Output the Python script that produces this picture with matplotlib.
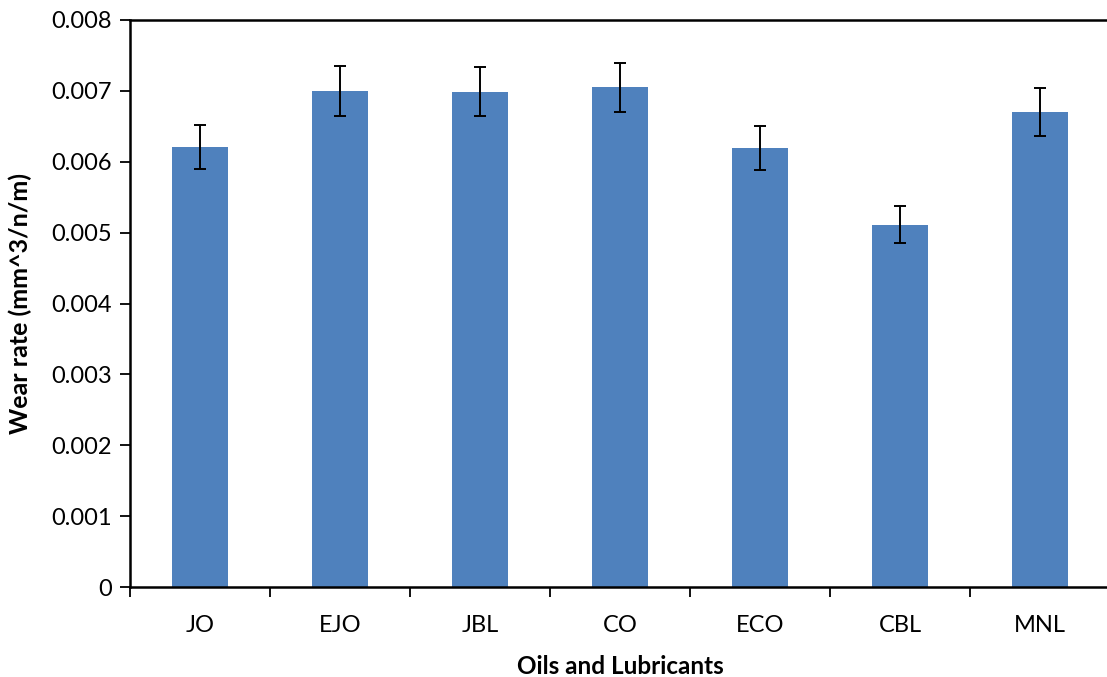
import matplotlib.pyplot as plt
import numpy as np

# wear rate per lubricant, with error bars
oils = ["JO", "EJO", "JBL", "CO", "ECO", "CBL", "MNL"]
wear_rate = [0.00621, 0.00700, 0.00699, 0.00705, 0.00620, 0.00511, 0.00670]
wear_err = [0.00031, 0.00035, 0.00035, 0.00035, 0.00031, 0.00026, 0.00034]

plt.rcParams['font.family'] = ['Lato', 'DejaVu Sans']

fig = plt.figure(figsize=(11.07, 6.77), dpi=100)
ax = fig.add_axes([130 / 1107, 90 / 677, 980 / 1107, 567 / 677])

x = np.arange(len(oils))
ax.bar(x, wear_rate, width=0.4, color="#4F81BD", zorder=2)
ax.errorbar(x, wear_rate, yerr=wear_err, fmt="none", ecolor="black",
            elinewidth=1.4, capsize=4.5, capthick=1.4, zorder=3)

ax.set_xlim(-0.5, len(oils) - 0.5)
ax.set_ylim(0, 0.008)
ax.set_yticks(np.arange(0, 0.0081, 0.001))
ax.set_yticklabels(["0"] + ["%.3f" % v for v in np.arange(0.001, 0.0081, 0.001)])

ax.set_xticks(x)
ax.set_xticklabels(oils)
ax.set_xticks(np.arange(-0.5, len(oils)), minor=True)
ax.tick_params(axis="x", which="major", length=0, pad=20, labelsize=17)
ax.tick_params(axis="x", which="minor", length=7, width=1.3, direction="out")
ax.tick_params(axis="y", length=7, width=1.3, direction="out", pad=6, labelsize=17)

for side in ["left", "bottom", "top", "right"]:
    ax.spines[side].set_linewidth(1.8)

ax.set_xlabel("Oils and Lubricants", fontsize=17.5, fontweight="bold", labelpad=14)
ax.set_ylabel("Wear rate (mm^3/n/m)", fontsize=18, fontweight="bold", labelpad=14)

fig.savefig("out.png", dpi=100)
